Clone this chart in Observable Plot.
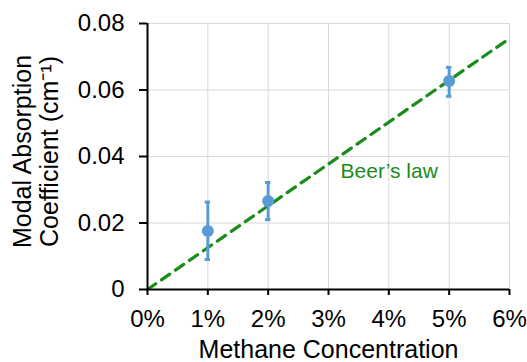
<!DOCTYPE html>
<html>
<head>
<meta charset="utf-8">
<script src="https://cdn.jsdelivr.net/npm/d3@7"></script>
<script src="https://cdn.jsdelivr.net/npm/@observablehq/plot@0.6"></script>
<style>
  html, body { margin: 0; padding: 0; background: #fff; }
</style>
</head>
<body>
<div id="chart"></div>
<script>
// Data
const concentration = [1, 2, 5];              // methane concentration (%)
const absorption = [0.0176, 0.0266, 0.0627];  // modal absorption coefficient (cm^-1)
const errLow = [0.0090, 0.0210, 0.0581];
const errHigh = [0.0263, 0.0322, 0.0668];

const beerX = [0, 6];
const beerY = [0, 0.0755];

const xTicks = [0, 1, 2, 3, 4, 5, 6];
const yTicks = [0, 0.02, 0.04, 0.06, 0.08];

const xTitle = "Methane Concentration";
const yTitle = "Modal Absorption\nCoefficient (cm\u207B\u00B9)";
const beerLabel = "Beer\u2019s law";

const points = concentration.map((x, i) => ({x, y: absorption[i], lo: errLow[i], hi: errHigh[i]}));
const beer = beerX.map((x, i) => ({x, y: beerY[i]}));

const blue = "#5b9bd5";
const green = "#1a8c1a";
const capHalf = 0.045;

const chart = Plot.plot({
  width: 527,
  height: 362,
  marginLeft: 147,
  marginRight: 18,
  marginTop: 23,
  marginBottom: 73,
  style: {fontFamily: "'Liberation Sans', Arial, sans-serif", fontSize: "24px", color: "#000", background: "#fff"},
  x: {domain: [0, 6]},
  y: {domain: [0, 0.08]},
  marks: [
    Plot.gridX(xTicks.slice(1), {stroke: "#d9d9d9", strokeOpacity: 1, strokeWidth: 1}),
    Plot.gridY(yTicks.slice(1), {stroke: "#d9d9d9", strokeOpacity: 1, strokeWidth: 1}),
    Plot.line(beer, {x: "x", y: "y", stroke: green, strokeWidth: 3.2, strokeDasharray: "10,7"}),
    Plot.ruleX(points, {x: "x", y1: "lo", y2: "hi", stroke: blue, strokeWidth: 3}),
    Plot.ruleY(points, {y: "lo", x1: d => d.x - capHalf, x2: d => d.x + capHalf, stroke: blue, strokeWidth: 3}),
    Plot.ruleY(points, {y: "hi", x1: d => d.x - capHalf, x2: d => d.x + capHalf, stroke: blue, strokeWidth: 3}),
    Plot.dot(points, {x: "x", y: "y", r: 6, fill: blue}),
    Plot.axisX({ticks: xTicks, tickSize: 6, tickPadding: 14, tickFormat: d => d + "%", label: null, strokeWidth: 2, fontSize: 24}),
    Plot.axisY({ticks: yTicks, tickSize: 8, tickPadding: 15, tickFormat: d => d === 0 ? "0" : d.toFixed(2), label: null, strokeWidth: 2, fontSize: 24}),
    Plot.ruleY([0], {stroke: "#000", strokeWidth: 2}),
    Plot.ruleX([0], {stroke: "#000", strokeWidth: 2}),
    Plot.text([beerLabel], {x: 3.2, y: 0.0355, text: d => d, textAnchor: "start", fill: green, fontSize: 21}),
    Plot.text([xTitle], {frameAnchor: "bottom", dy: 51, lineAnchor: "top", textAnchor: "middle", text: d => d, fontSize: 25}),
    Plot.text([yTitle], {frameAnchor: "left", dx: -111.5, dy: -5, rotate: -90, textAnchor: "middle", lineAnchor: "middle", lineHeight: 1.08, text: d => d, fontSize: 25})
  ]
});
document.getElementById("chart").appendChild(chart);
</script>
</body>
</html>
